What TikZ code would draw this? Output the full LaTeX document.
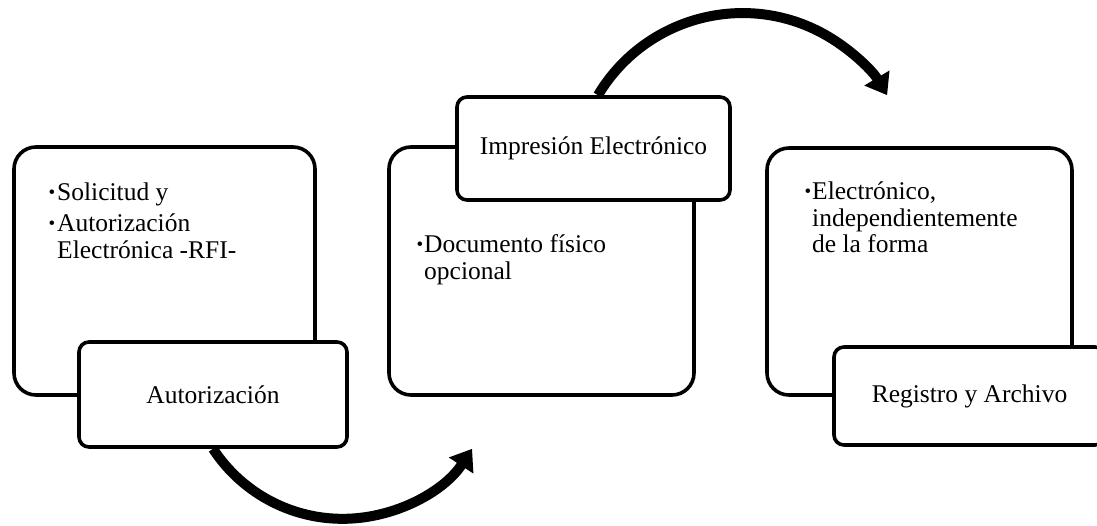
\documentclass[tikz,border=0pt]{standalone}
\usepackage{fontspec}
\setmainfont{Liberation Serif}
\usetikzlibrary{arrows.meta,calc}
\newcommand{\toplines}[1]{\begin{tabular}[t]{@{}l@{}}#1\end{tabular}}
\begin{document}
\begin{tikzpicture}[x=1pt,y=1pt,
  panelbox/.style={draw=black, line width=3.6pt, rounded corners=22pt, fill=white, inner sep=0pt},
  tabbox/.style={draw=black, line width=3.6pt, rounded corners=10pt, fill=white, inner sep=0pt,
    font=\fontsize{25.5}{26}\selectfont, align=center},
  itemtext/.style={anchor=base west, inner sep=0pt, font=\fontsize{25.5}{26.5}\selectfont},
  bulletmark/.style={anchor=base east, inner sep=0pt, yshift=2.5pt, xshift=-1.5pt,
    font=\fontsize{19}{20}\selectfont},
  flow/.style={line width=10pt, -{Triangle[width=28pt,length=20pt]}}
]
\useasboundingbox (0,0) rectangle (1097,525);
\clip (0,0) rectangle (1097,525);

% step 1: request and authorisation
\node[panelbox, minimum width=301pt, minimum height=248pt] (p1) at (164.5,254) {};
\node[bulletmark] (b1a) at (57,324) {•};
\node[itemtext] (t1a) at (57,324) {Solicitud y};
\node[bulletmark] (b1b) at (57,293) {•};
\node[itemtext] (t1b) at (57,293) {\toplines{Autorización\\Electrónica -RFI-}};
\node[tabbox, minimum width=268pt, minimum height=105pt] (auth) at (213,130.5) {Autorización};

% step 2: printing
\node[panelbox, minimum width=305pt, minimum height=248pt] (p2) at (541.5,254) {};
\node[bulletmark] (b2) at (425,272) {•};
\node[itemtext] (t2) at (424,272) {\toplines{Documento físico\\opcional}};
\node[tabbox, minimum width=273pt, minimum height=103pt] (imp) at (593.5,376.5) {Impresión Electrónico};

% step 3: registry and archive
\node[panelbox, minimum width=305pt, minimum height=247pt] (p3) at (919.5,253.5) {};
\node[bulletmark] (b3) at (813,325) {•};
\node[itemtext] (t3) at (812,325) {\toplines{Electrónico,\\independientemente\\de la forma}};
\node[tabbox, minimum width=271pt, minimum height=98pt] (reg) at (969.5,129) {Registro y Archivo};

% curved connectors between the steps
\draw[flow] (auth.south) arc[start angle=213.2, end angle=326.8, radius=154.8];
\draw[flow] ($(imp.north)+(4.5,0)$) arc[start angle=149.2, end angle=30.8, radius=168.3];
\end{tikzpicture}
\end{document}
